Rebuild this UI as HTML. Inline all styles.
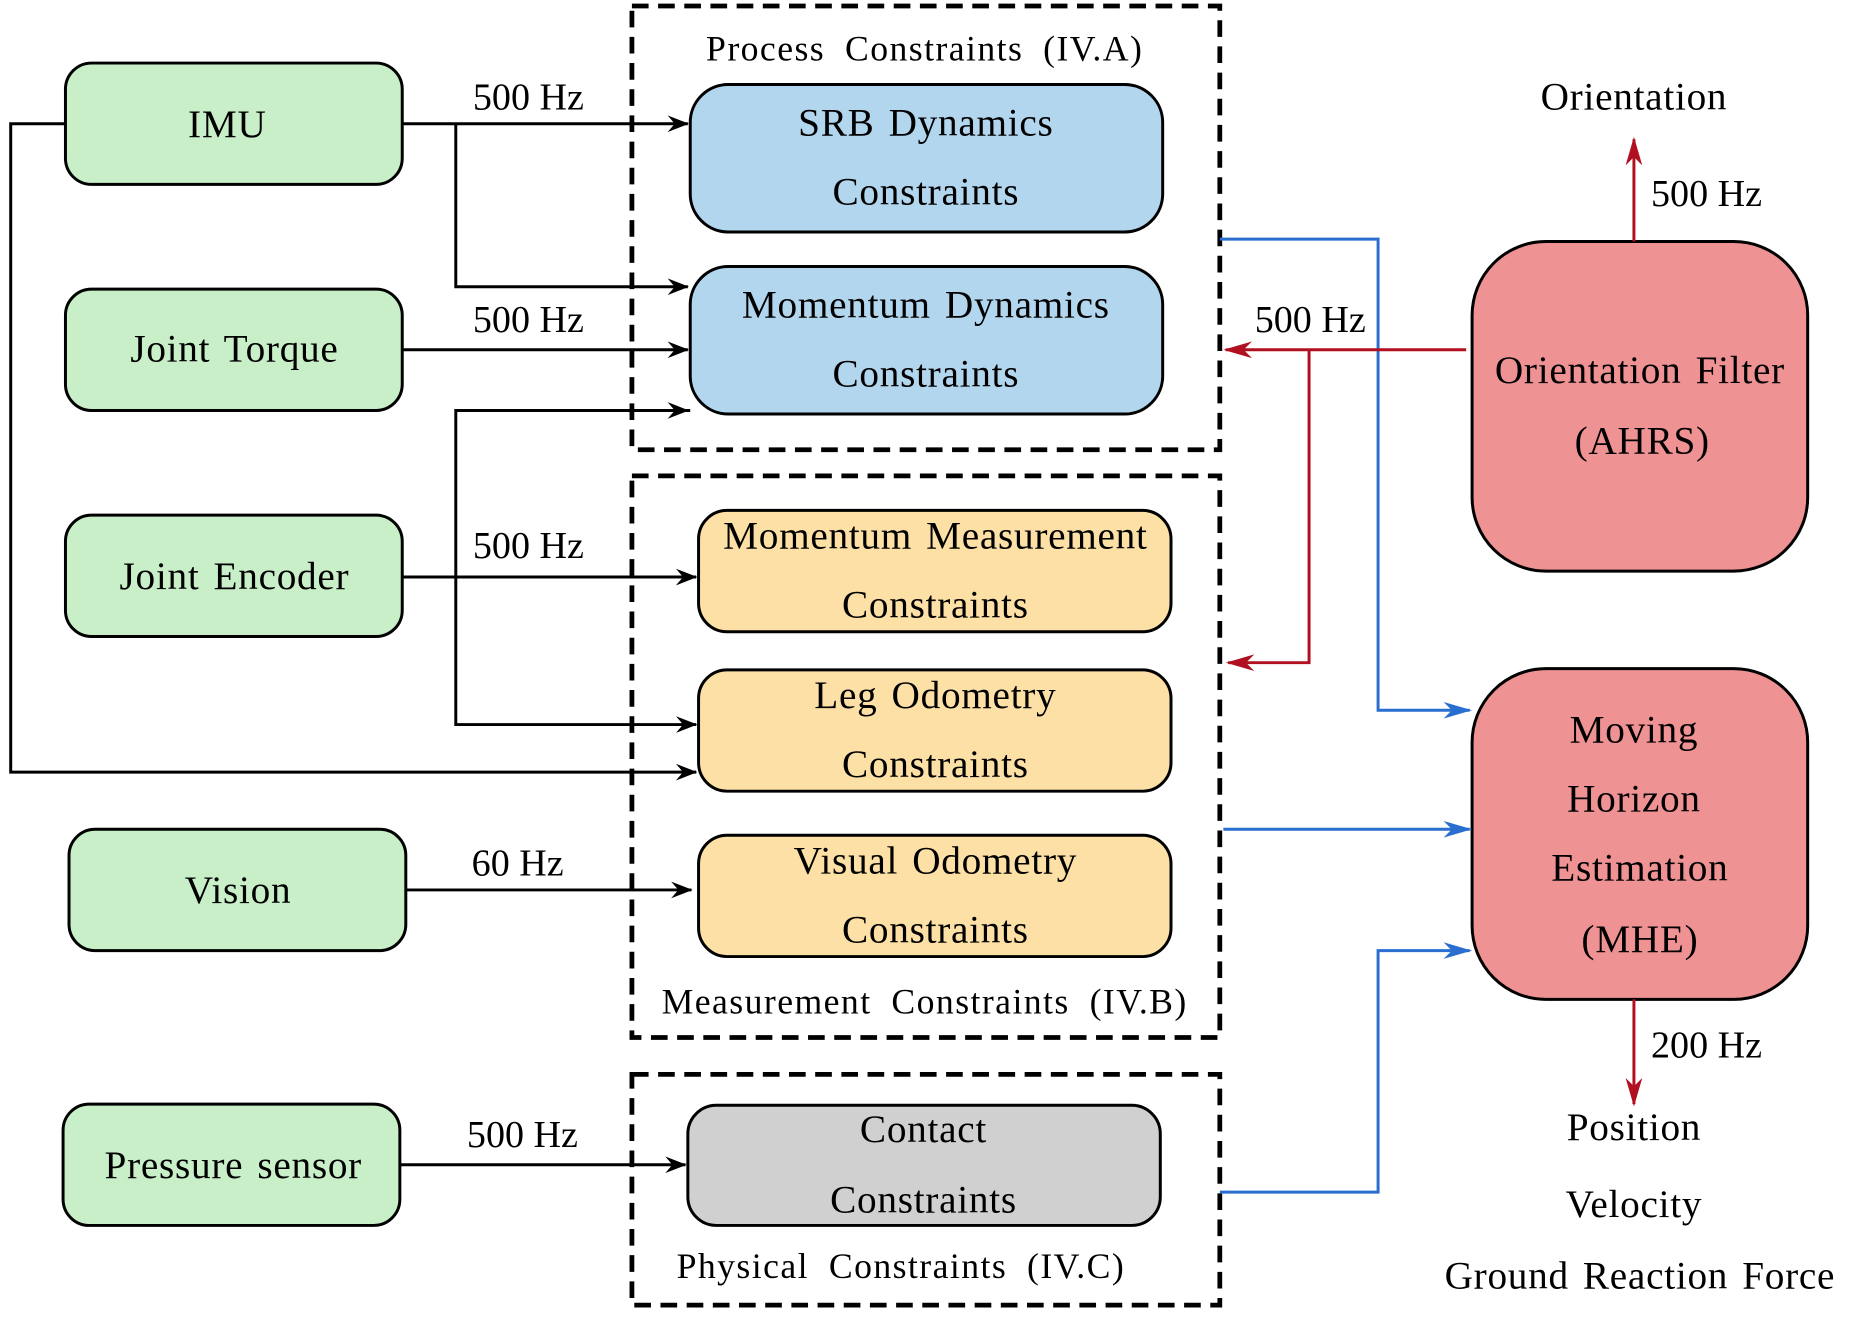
<!DOCTYPE html>
<html><head><meta charset="utf-8"><style>html,body{margin:0;padding:0;background:#fff}svg{display:block}</style></head>
<body>
<svg width="1866" height="1323" viewBox="0 0 1568 1112" preserveAspectRatio="none" xmlns="http://www.w3.org/2000/svg" font-family="Liberation Serif, serif">
<defs>
<marker id="ak" markerWidth="18" markerHeight="14" refX="17" refY="7" orient="auto" markerUnits="userSpaceOnUse"><path d="M0,0 L18,7 L0,14 L6,7 Z" fill="#000"/></marker>
<marker id="ab" markerWidth="24" markerHeight="14" refX="22" refY="7" orient="auto" markerUnits="userSpaceOnUse"><path d="M0,0 L24,7 L0,14 L7,7 Z" fill="#2a6fd0"/></marker>
<marker id="ar" markerWidth="24" markerHeight="14" refX="22" refY="7" orient="auto" markerUnits="userSpaceOnUse"><path d="M0,0 L24,7 L0,14 L7,7 Z" fill="#b01020"/></marker>
</defs>
<g stroke="#000" stroke-width="2.5">
<rect x="55" y="53" width="283" height="102" rx="22" fill="#c9efc9"/>
<rect x="55" y="243" width="283" height="102" rx="22" fill="#c9efc9"/>
<rect x="55" y="433" width="283" height="102" rx="22" fill="#c9efc9"/>
<rect x="58" y="697" width="283" height="102" rx="22" fill="#c9efc9"/>
<rect x="53" y="928" width="283" height="102" rx="22" fill="#c9efc9"/>
<rect x="580" y="71" width="397" height="124" rx="32" fill="#b3d6ef"/>
<rect x="580" y="224" width="397" height="124" rx="32" fill="#b3d6ef"/>
<rect x="587" y="429" width="397" height="102" rx="24" fill="#fde0a5"/>
<rect x="587" y="563" width="397" height="102" rx="24" fill="#fde0a5"/>
<rect x="587" y="702" width="397" height="102" rx="24" fill="#fde0a5"/>
<rect x="578" y="929" width="397" height="101" rx="24" fill="#d0d0d0"/>
<rect x="1237" y="203" width="282" height="277" rx="62" fill="#ee9294"/>
<rect x="1237" y="562" width="282" height="278" rx="62" fill="#ee9294"/>
</g>
<g fill="none" stroke="#000" stroke-width="4" stroke-dasharray="14,8">
<rect x="531" y="5" width="494" height="373"/>
<rect x="531" y="400" width="494" height="472"/>
<rect x="531" y="903" width="494" height="194"/>
</g>
<g fill="none" stroke="#000" stroke-width="2.5">
<path d="M338,104 H578" marker-end="url(#ak)"/>
<path d="M383,104 V241 H578" marker-end="url(#ak)"/>
<path d="M338,294 H578" marker-end="url(#ak)"/>
<path d="M338,485 H585" marker-end="url(#ak)"/>
<path d="M580,345 H383 V609 H585" marker-end="url(#ak)"/>
<path d="M383,345 H578" marker-end="url(#ak)"/>
<path d="M55,104 H9 V649 H585" marker-end="url(#ak)"/>
<path d="M341,748 H581" marker-end="url(#ak)"/>
<path d="M336,979 H576" marker-end="url(#ak)"/>
</g>
<g fill="none" stroke="#2a6fd0" stroke-width="2.5">
<path d="M1025,201 H1158 V597 H1235" marker-end="url(#ab)"/>
<path d="M1028,697 H1235" marker-end="url(#ab)"/>
<path d="M1025,1002 H1158 V799 H1235" marker-end="url(#ab)"/>
</g>
<g fill="none" stroke="#b01020" stroke-width="2.5">
<path d="M1232,294 H1030" marker-end="url(#ar)"/>
<path d="M1100,294 V557 H1032" marker-end="url(#ar)"/>
<path d="M1373,203 V117" marker-end="url(#ar)"/>
<path d="M1373,840 V928" marker-end="url(#ar)"/>
</g>
<g font-size="33" text-anchor="middle" fill="#000" letter-spacing="0.6" word-spacing="3">
<text x="191" y="115">IMU</text>
<text x="197" y="304">Joint Torque</text>
<text x="197" y="495">Joint Encoder</text>
<text x="200" y="759">Vision</text>
<text x="196" y="990">Pressure sensor</text>
<text x="778" y="114">SRB Dynamics</text>
<text x="778" y="172">Constraints</text>
<text x="778" y="267">Momentum Dynamics</text>
<text x="778" y="325">Constraints</text>
<text x="786" y="461">Momentum Measurement</text>
<text x="786" y="519">Constraints</text>
<text x="786" y="595">Leg Odometry</text>
<text x="786" y="653">Constraints</text>
<text x="786" y="734">Visual Odometry</text>
<text x="786" y="792">Constraints</text>
<text x="776" y="960">Contact</text>
<text x="776" y="1019">Constraints</text>
<text x="1378" y="322">Orientation Filter</text>
<text x="1380" y="381">(AHRS)</text>
<text x="1373" y="624">Moving</text>
<text x="1373" y="682">Horizon</text>
<text x="1378" y="740">Estimation</text>
<text x="1378" y="800">(MHE)</text>
<text x="1373" y="92">Orientation</text>
<text x="1373" y="958">Position</text>
<text x="1373" y="1023">Velocity</text>
<text x="1378" y="1083">Ground Reaction Force</text>
</g>
<g font-size="32" text-anchor="middle" fill="#000">
<text x="444" y="92">500 Hz</text>
<text x="444" y="279">500 Hz</text>
<text x="444" y="469">500 Hz</text>
<text x="435" y="736">60 Hz</text>
<text x="439" y="964">500 Hz</text>
<text x="1101" y="279">500 Hz</text>
<text x="1434" y="173">500 Hz</text>
<text x="1434" y="889">200 Hz</text>
</g>
<g font-size="30" text-anchor="middle" fill="#000" letter-spacing="1.2" word-spacing="8">
<text x="777" y="51">Process Constraints (IV.A)</text>
<text x="777" y="852">Measurement Constraints (IV.B)</text>
<text x="757" y="1074">Physical Constraints (IV.C)</text>
</g>
</svg>
</body></html>
